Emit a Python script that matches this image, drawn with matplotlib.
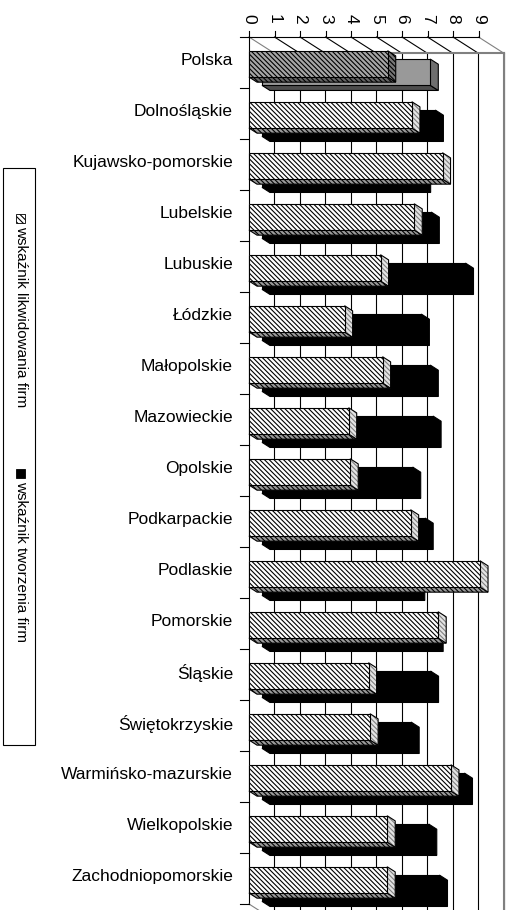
import matplotlib
matplotlib.use("Agg")
import matplotlib.pyplot as plt
from matplotlib.patches import Polygon, Rectangle

plt.rcParams['font.family'] = ['Liberation Sans', 'DejaVu Sans']
plt.rcParams['hatch.linewidth'] = 0.8

# data
regions = ['Polska', 'Dolnośląskie', 'Kujawsko-pomorskie', 'Lubelskie', 'Lubuskie',
           'Łódzkie', 'Małopolskie', 'Mazowieckie', 'Opolskie', 'Podkarpackie',
           'Podlaskie', 'Pomorskie', 'Śląskie', 'Świętokrzyskie',
           'Warmińsko-mazurskie', 'Wielkopolskie', 'Zachodniopomorskie']
likwidowanie = [5.44, 6.39, 7.59, 6.48, 5.16, 3.75, 5.24, 3.91, 3.97, 6.34,
                9.06, 7.42, 4.69, 4.75, 7.92, 5.42, 5.42]
tworzenie = [6.60, 6.80, 6.30, 6.64, 7.98, 6.25, 6.60, 6.71, 5.91, 6.40,
             6.07, 6.79, 6.61, 5.85, 7.94, 6.54, 6.96]
ticks = list(range(10))
legend_labels = ['wskaźnik likwidowania firm', 'wskaźnik tworzenia firm']

W, H = 513, 910
X0, PXU = 249, 25.5     # pixel of value 0, pixels per unit
Y0, PXC = 37, 51        # pixel of top of first category, pixels per category
DX, DY = 25 / PXU, 16 / PXC   # depth vector (data units)
B0, B1 = 0.27, 0.785          # bar span inside a category band
HATCH = '\\' * 7

fig = plt.figure(figsize=(W / 100, H / 100), dpi=100)
ax = fig.add_axes([0, 0, 1, 1])
ax.set_xlim(-X0 / PXU, (W - X0) / PXU)
ax.set_ylim((H - Y0) / PXC, -Y0 / PXC)
ax.axis('off')

n = len(regions)


def face(pts, fc, hatch=None, hc='black', z=2):
    ax.add_patch(Polygon(pts, closed=True, facecolor=fc, edgecolor=hc, hatch=hatch,
                         linewidth=0, zorder=z))
    ax.add_patch(Polygon(pts, closed=True, fill=False, edgecolor='black',
                         linewidth=0.8, zorder=z))


def bar3d(v, k, d0, d1, front, right, bottom, z):
    ox0, oy0, ox1, oy1 = d0 * DX, d0 * DY, d1 * DX, d1 * DY
    y0, y1 = k + B0, k + B1
    face([(ox0, y1 + oy0), (v + ox0, y1 + oy0), (v + ox1, y1 + oy1), (ox1, y1 + oy1)], *bottom, z=z)
    face([(v + ox0, y0 + oy0), (v + ox1, y0 + oy1), (v + ox1, y1 + oy1), (v + ox0, y1 + oy0)], *right, z=z)
    face([(ox0, y0 + oy0), (v + ox0, y0 + oy0), (v + ox0, y1 + oy0), (ox0, y1 + oy0)], *front, z=z)


# walls and grid
for t in ticks:
    ax.plot([t + DX, t + DX], [DY, n + DY], color='black', lw=0.8, zorder=1)
    c = '#808080' if t in (0, 9) else 'black'
    ax.plot([t, t + DX], [0, DY], color=c, lw=0.8, zorder=1)
    ax.plot([t, t], [0, -6 / PXC], color='black', lw=0.8, zorder=1)
    ax.text(t, -18 / PXC, str(t), rotation=-90, ha='center', va='center', fontsize=12.5)
ax.plot([DX, 9 + DX], [DY, DY], color='#808080', lw=1.5, zorder=1)
ax.plot([9 + DX, 9 + DX], [DY, n + DY], color='#808080', lw=1.5, zorder=1)
ax.plot([0, 9], [0, 0], color='black', lw=0.8, zorder=1)
ax.plot([0, 0], [0, n], color='black', lw=0.8, zorder=1)
ax.plot([0, DX], [n, n + DY], color='#808080', lw=0.8, zorder=1)
for k in range(n + 1):
    ax.plot([-9 / PXU, 0], [k, k], color='black', lw=0.8, zorder=1)

# bars
for k, name in enumerate(regions):
    if k == 0:
        bar3d(tworzenie[k], k, 0.52, 0.84, ('#999999',), ('#6e6e6e',), ('#4d4d4d',), 2)
        bar3d(likwidowanie[k], k, 0.0, 0.32, ('#a6a6a6', HATCH), ('#777777', HATCH),
              ('#666666', HATCH), 3)
    else:
        bar3d(tworzenie[k], k, 0.52, 0.84, ('black',), ('black',), ('black',), 2)
        bar3d(likwidowanie[k], k, 0.0, 0.32, ('white', HATCH),
              ('#e4e4e4', HATCH, '#808080'), ('#9a9a9a', HATCH), 3)
    ax.text(-16 / PXU, k + 0.47, name, ha='right', va='center', fontsize=12.5)

# legend
fig.patches.append(Rectangle((3 / W, 1 - 745 / H), 32 / W, 577 / H, transform=fig.transFigure,
                             fill=False, edgecolor='black', lw=0.8))
fig.patches.append(Rectangle((16 / W, 1 - 223 / H), 9 / W, 9 / H, transform=fig.transFigure,
                             facecolor='white', edgecolor='black', hatch='\\' * 6, lw=0.6))
fig.patches.append(Rectangle((16 / W, 1 - 478 / H), 9 / W, 9 / H, transform=fig.transFigure,
                             facecolor='black', edgecolor='black', lw=0.6))
fig.text(21 / W, 1 - 226 / H, legend_labels[0], rotation=-90, ha='center', va='top', fontsize=11)
fig.text(21 / W, 1 - 481 / H, legend_labels[1], rotation=-90, ha='center', va='top', fontsize=11)

fig.savefig('out.png', dpi=100)
